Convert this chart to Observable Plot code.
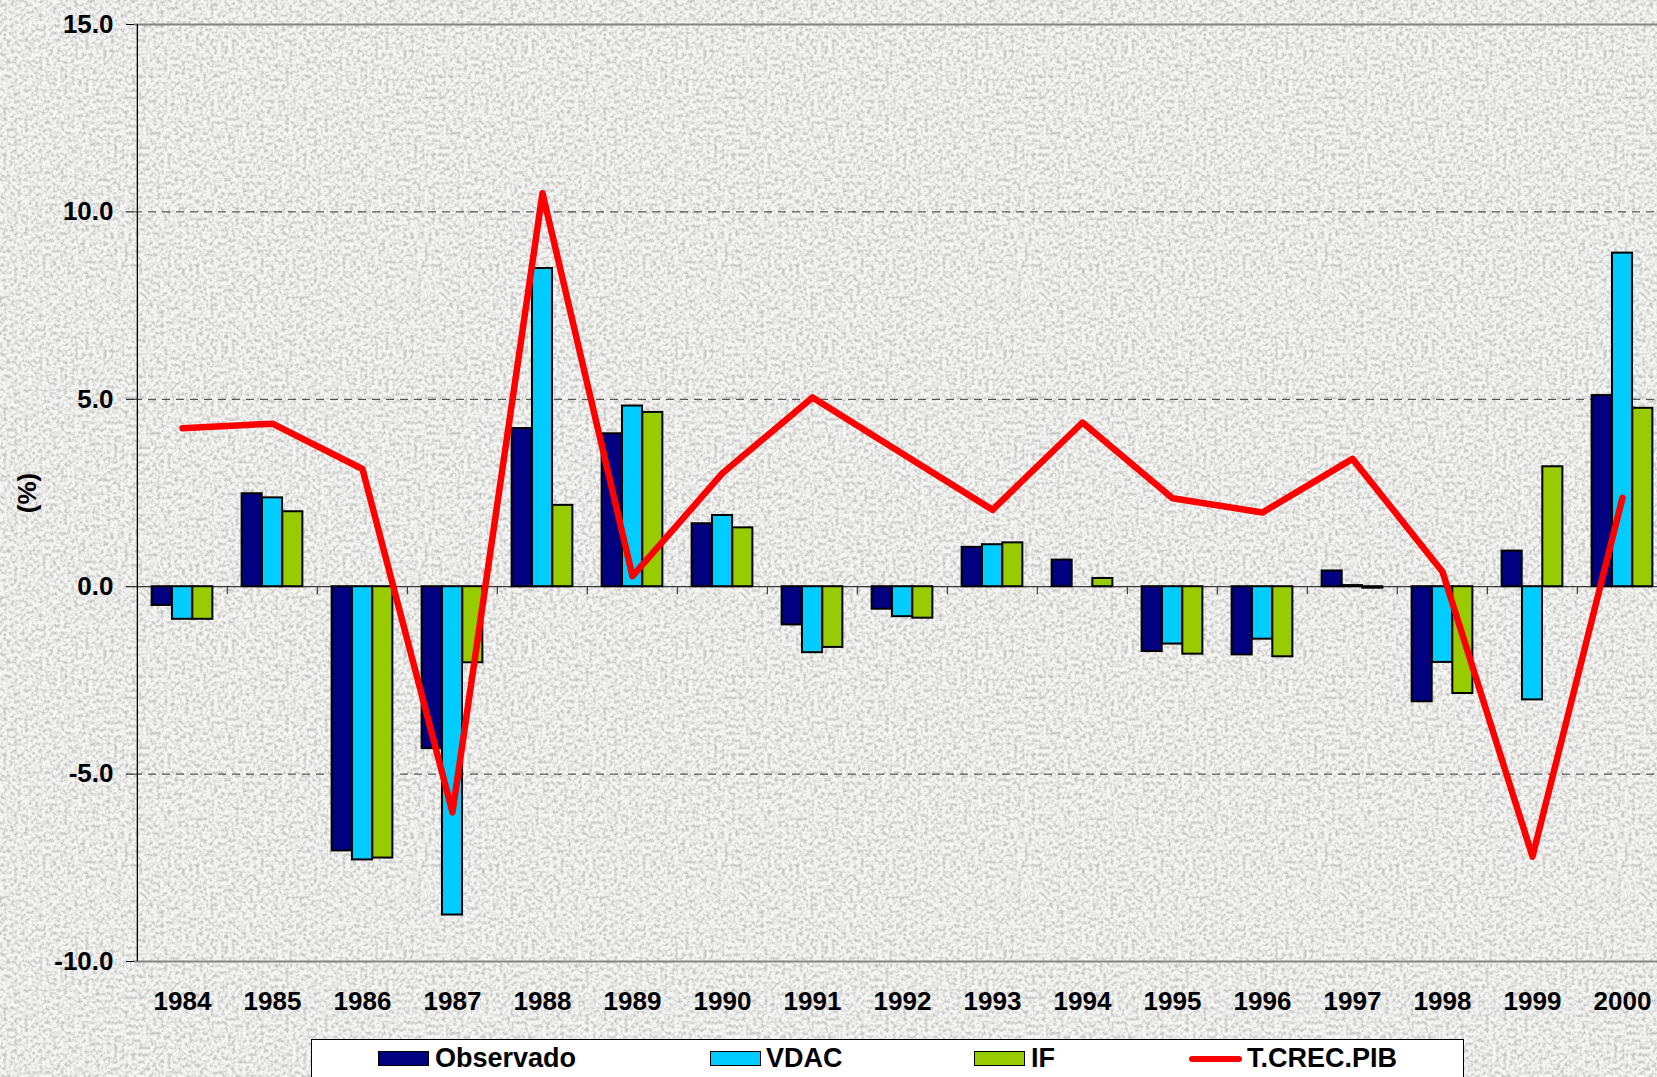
<!DOCTYPE html>
<html>
<head>
<meta charset="utf-8">
<script src="https://cdn.jsdelivr.net/npm/d3@7"></script>
<script src="https://cdn.jsdelivr.net/npm/@observablehq/plot@0.6"></script>
<style>
  html, body { margin: 0; padding: 0; overflow: hidden; width: 1657px; height: 1077px; }
  body { background-color: #efefee; }
  #wrap { position: relative; width: 1657px; height: 1077px; font-family: "Liberation Sans", Arial, sans-serif; font-weight: bold; color: #000; }
  #chart svg { display: block; }
  .box { position: absolute; left: 311px; top: 1039px; width: 1153px; height: 60px; background: #fff; border: 1.5px solid #000; box-sizing: border-box; }
  .sw { position: absolute; top: 1051px; width: 51px; height: 15px; border: 1.5px solid #000; box-sizing: border-box; }
  .ln { position: absolute; top: 1056px; width: 53px; height: 6px; background: #ff0000; border-radius: 3px; }
  .lt { position: absolute; top: 1045px; font-size: 27px; line-height: 26px; white-space: nowrap; }
</style>
</head>
<body>
<div id="wrap">
  <div id="chart"></div>
  <div class="box"></div>
  <div class="sw" style="left:378px;background:#000080"></div><div class="lt" style="left:435px">Observado</div>
  <div class="sw" style="left:710px;background:#00ccff"></div><div class="lt" style="left:766px">VDAC</div>
  <div class="sw" style="left:974px;background:#99cc00"></div><div class="lt" style="left:1031px">IF</div>
  <div class="ln" style="left:1189px"></div><div class="lt" style="left:1247px">T.CREC.PIB</div>
</div>
<script>
// ---- data ----
const years = ["1984","1985","1986","1987","1988","1989","1990","1991","1992","1993","1994","1995","1996","1997","1998","1999","2000"];
const observado = [-0.50, 2.48, -7.05, -4.32, 4.22, 4.08, 1.68, -1.02, -0.60, 1.05, 0.71, -1.73, -1.82, 0.42, -3.07, 0.95, 5.10];
const vdac      = [-0.87, 2.37, -7.29, -8.76, 8.49, 4.82, 1.90, -1.76, -0.80, 1.12, 0.00, -1.53, -1.40, 0.03, -2.02, -3.02, 8.90];
const ifSeries  = [-0.87, 2.00, -7.24, -2.03, 2.17, 4.65, 1.57, -1.62, -0.84, 1.17, 0.22, -1.80, -1.87, -0.04, -2.85, 3.20, 4.76];
const pib       = [4.23, 4.35, 3.14, -6.02, 10.50, 0.28, 3.03, 5.05, 3.55, 2.05, 4.38, 2.36, 1.98, 3.41, 0.40, -7.20, 2.37];
const yTicks = [-10, -5, 0, 5, 10, 15];
const gridValues = [-5, 5, 10];
const borderValues = [-10, 15];
const yLabel = "(%)";

// ---- background texture ----
const noise = `<svg xmlns='http://www.w3.org/2000/svg' width='300' height='300'><filter id='n' x='0' y='0' width='100%' height='100%'><feTurbulence type='fractalNoise' baseFrequency='0.28' numOctaves='3' seed='11' stitchTiles='stitch'/><feColorMatrix type='matrix' values='0 0 0 0 0.55  0 0 0 0 0.55  0 0 0 0 0.54  2.6 0 0 0 -1.05'/></filter><rect width='300' height='300' fill='#f5f5f4'/><rect width='300' height='300' filter='url(#n)'/></svg>`;
document.body.style.backgroundImage = `url("data:image/svg+xml,${encodeURIComponent(noise)}")`;

// ---- layout ----
const W = 1657, H = 1039;
const X0 = 134, X1 = 1669;          // plot area extends past the right edge (cropped)
const bw = (X1 - X0) / years.length;
const groupW = 61, barW = groupW / 3, pad = (bw - groupW) / 2;

const rows = years.map((y, i) => ({year: y, observado: observado[i], vdac: vdac[i], ifv: ifSeries[i], pib: pib[i]}));
const series = [
  {key: "observado", color: "#000080"},
  {key: "vdac", color: "#00ccff"},
  {key: "ifv", color: "#99cc00"}
];

const chart = Plot.plot({
  width: W,
  height: H,
  marginLeft: X0,
  marginRight: 0,
  marginTop: 24,
  marginBottom: H - 961,
  style: {background: "transparent", fontFamily: "'Liberation Sans', Arial, sans-serif", fontSize: "26px", fontWeight: "bold", color: "#000", overflow: "hidden"},
  x: {type: "band", domain: years, range: [X0, X1], padding: 0, tickSize: 0, tickPadding: 30, label: null},
  y: {domain: [-10, 15], ticks: yTicks, tickFormat: d => d.toFixed(1), tickSize: 8, tickPadding: 13, label: null},
  marks: [
    Plot.ruleY(gridValues, {stroke: "#333", strokeWidth: 1, strokeDasharray: "8,6"}),
    Plot.ruleY(borderValues, {stroke: "#858585", strokeWidth: 2}),
    Plot.ruleY([0], {stroke: "#3a3a3a", strokeWidth: 1.2}),
    Plot.ruleX(years.slice(1), {x: d => d, y1: 0, y2: 0, insetBottom: -8, dx: -bw / 2, stroke: "#3a3a3a", strokeWidth: 1.2}),
    Plot.ruleX([years[0]], {x: d => d, y1: -10, y2: 15, dx: -bw / 2, stroke: "#000", strokeWidth: 1.3}),
    ...series.map((s, k) => Plot.barY(rows, {
      x: "year", y: s.key, fill: s.color, stroke: "#000", strokeWidth: 2,
      insetLeft: pad + k * barW, insetRight: pad + (2 - k) * barW
    })),
    Plot.lineY(rows, {x: "year", y: "pib", stroke: "#ff0000", strokeWidth: 6.5}),
    Plot.text([yLabel], {frameAnchor: "left", dx: -107, rotate: -90, textAnchor: "middle", fontSize: 26, fontWeight: "bold", fill: "#000"})
  ]
});
document.getElementById("chart").appendChild(chart);
</script>
</body>
</html>
